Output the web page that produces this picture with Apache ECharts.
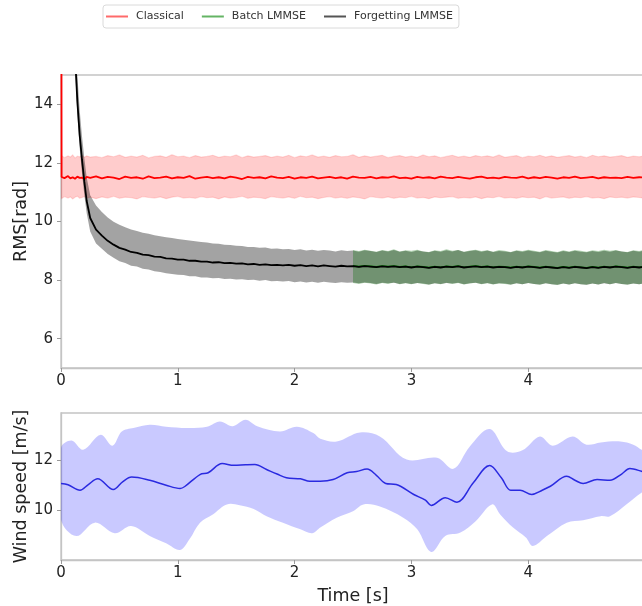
<!DOCTYPE html>
<html>
<head>
<meta charset="utf-8">
<script src="https://cdn.jsdelivr.net/npm/echarts@6/dist/echarts.min.js"></script>
<style>
  html, body { margin: 0; padding: 0; background: #fff; }
  #chart { width: 642px; height: 606px; }
</style>
</head>
<body>
<div id="chart"></div>
<script>
// ---- RMS error panel: sample times (dense near the start, then every 0.05 s) ----
const rmsTimeHead = [0, 0.005, 0.03, 0.06, 0.08, 0.10, 0.12, 0.14, 0.16, 0.18, 0.20, 0.22, 0.25, 0.30];
const rmsStep = 0.05;
const rmsTime = rmsTimeHead.concat(Array.from({ length: 94 }, (_, i) => +(0.35 + rmsStep * i).toFixed(2)));

// Classical estimator: mean and spread band
const classicalMean = [30, 11.52, 11.48, 11.55, 11.47, 11.51, 11.46, 11.53, 11.49, 11.5, 11.44, 11.52, 11.49, 11.54,
  11.47, 11.52, 11.5, 11.45, 11.53, 11.49, 11.51, 11.46, 11.54, 11.48,
  11.5, 11.53, 11.47, 11.51, 11.49, 11.55, 11.46, 11.5, 11.52, 11.48,
  11.51, 11.47, 11.53, 11.5, 11.45, 11.52, 11.49, 11.51, 11.47, 11.54,
  11.5, 11.48, 11.52, 11.46, 11.51, 11.49, 11.53, 11.47, 11.5, 11.52,
  11.48, 11.51, 11.46, 11.53, 11.5, 11.49, 11.52, 11.47, 11.51, 11.5,
  11.54, 11.48, 11.5, 11.46, 11.52, 11.49, 11.51, 11.47, 11.53, 11.5,
  11.48, 11.52, 11.49, 11.46, 11.51, 11.53, 11.48, 11.5, 11.47, 11.52,
  11.5, 11.49, 11.53, 11.47, 11.51, 11.48, 11.52, 11.5, 11.46, 11.51,
  11.49, 11.53, 11.48, 11.5, 11.52, 11.47, 11.51, 11.49, 11.5, 11.48,
  11.52, 11.49, 11.51, 11.5];
const classicalHigh = [12.22, 12.25, 12.18, 12.24, 12.2, 12.27, 12.17, 12.23, 12.21, 12.26, 12.19, 12.24, 12.2, 12.22,
  12.18, 12.25, 12.21, 12.27, 12.19, 12.23, 12.2, 12.26, 12.17, 12.22,
  12.24, 12.19, 12.28, 12.21, 12.23, 12.18, 12.25, 12.2, 12.22, 12.26,
  12.19, 12.23, 12.21, 12.27, 12.18, 12.24, 12.2, 12.22, 12.25, 12.19,
  12.23, 12.2, 12.26, 12.18, 12.24, 12.21, 12.27, 12.2, 12.23, 12.19,
  12.25, 12.21, 12.22, 12.28, 12.19, 12.24, 12.2, 12.23, 12.26, 12.18,
  12.22, 12.25, 12.2, 12.23, 12.19, 12.27, 12.21, 12.24, 12.18, 12.22,
  12.26, 12.2, 12.23, 12.19, 12.25, 12.21, 12.24, 12.2, 12.27, 12.19,
  12.22, 12.25, 12.18, 12.23, 12.21, 12.26, 12.2, 12.24, 12.19, 12.22,
  12.25, 12.2, 12.23, 12.18, 12.26, 12.21, 12.24, 12.2, 12.22, 12.25,
  12.19, 12.23, 12.21, 12.24];
const classicalLow = [10.82, 10.78, 10.85, 10.8, 10.84, 10.77, 10.83, 10.86, 10.79, 10.82, 10.85, 10.8, 10.83, 10.78,
  10.84, 10.8, 10.86, 10.79, 10.83, 10.81, 10.77, 10.85, 10.82, 10.8,
  10.84, 10.78, 10.83, 10.86, 10.8, 10.82, 10.79, 10.85, 10.81, 10.83,
  10.77, 10.84, 10.8, 10.82, 10.86, 10.79, 10.83, 10.81, 10.78, 10.85,
  10.82, 10.8, 10.84, 10.79, 10.86, 10.81, 10.83, 10.78, 10.82, 10.85,
  10.8, 10.83, 10.79, 10.84, 10.81, 10.77, 10.85, 10.82, 10.8, 10.84,
  10.79, 10.83, 10.81, 10.86, 10.8, 10.82, 10.78, 10.84, 10.81, 10.83,
  10.85, 10.79, 10.82, 10.8, 10.84, 10.78, 10.83, 10.81, 10.86, 10.8,
  10.82, 10.79, 10.84, 10.81, 10.83, 10.77, 10.85, 10.8, 10.82, 10.84,
  10.79, 10.83, 10.81, 10.85, 10.8, 10.82, 10.78, 10.84, 10.81, 10.83,
  10.8, 10.84, 10.82, 10.79];

// Forgetting LMMSE: mean and spread band
const forgettingMean = [60, 55, 36, 24.5, 20.5, 17.8, 15.7, 14.1, 12.95, 12.1, 11.35, 10.7, 10.12, 9.72,
  9.52, 9.34, 9.21, 9.1, 9.04, 8.96, 8.93, 8.87, 8.85, 8.8,
  8.79, 8.74, 8.73, 8.7, 8.7, 8.66, 8.66, 8.63, 8.63, 8.6,
  8.61, 8.58, 8.59, 8.56, 8.57, 8.54, 8.55, 8.52, 8.54, 8.51,
  8.52, 8.5, 8.52, 8.49, 8.51, 8.48, 8.5, 8.47, 8.5, 8.48,
  8.46, 8.49, 8.47, 8.48, 8.45, 8.48, 8.46, 8.44, 8.47, 8.45,
  8.47, 8.44, 8.46, 8.43, 8.46, 8.44, 8.42, 8.45, 8.43, 8.46,
  8.44, 8.47, 8.43, 8.45, 8.47, 8.44, 8.46, 8.43, 8.45, 8.44,
  8.42, 8.45, 8.43, 8.46, 8.44, 8.42, 8.45, 8.43, 8.41, 8.44,
  8.42, 8.45, 8.43, 8.41, 8.44, 8.42, 8.45, 8.43, 8.46, 8.44,
  8.42, 8.45, 8.43, 8.46];
const forgettingHigh = [64, 58, 38, 26, 21.8, 18.9, 16.7, 15.0, 13.8, 12.9, 12.15, 11.5, 10.9, 10.55,
  10.32, 10.14, 9.99, 9.89, 9.8, 9.73, 9.68, 9.62, 9.58, 9.53,
  9.5, 9.46, 9.44, 9.4, 9.38, 9.35, 9.33, 9.3, 9.28, 9.25,
  9.24, 9.21, 9.2, 9.17, 9.16, 9.13, 9.13, 9.1, 9.11, 9.07,
  9.08, 9.05, 9.06, 9.03, 9.05, 9.01, 9.04, 9.0, 9.03, 9.01,
  8.98, 9.02, 8.99, 9.01,
  8.97, 9.02, 8.99, 8.96, 9.01, 8.98, 9.03, 8.97, 9.0,
  8.96, 9.01, 8.98, 8.95, 9.0, 8.97, 9.02, 8.98, 9.03, 8.96,
  8.99, 9.02, 8.97, 9.01, 8.96, 8.99, 8.98, 8.95, 9.0, 8.97,
  9.01, 8.98, 8.95, 9.0, 8.97, 8.94, 8.99, 8.96, 9.0, 8.97,
  8.95, 8.99, 8.96, 9.0, 8.97, 9.01, 8.98, 8.95, 9.0, 8.97, 9.01];
const forgettingLow = [59, 53.5, 34.8, 23.8, 19.9, 17.3, 15.25, 13.65, 12.5, 11.65, 10.9, 10.28, 9.66, 9.25,
  9.07, 8.89, 8.76, 8.64, 8.58, 8.49, 8.46, 8.39, 8.36, 8.3,
  8.28, 8.23, 8.21, 8.18, 8.17, 8.13, 8.13, 8.09, 8.09, 8.06,
  8.07, 8.04, 8.05, 8.02, 8.03, 8.0, 8.01, 7.98, 8.0, 7.96,
  7.97, 7.95, 7.97, 7.93, 7.95, 7.92, 7.94, 7.91, 7.94, 7.92,
  7.9, 7.93, 7.91, 7.92,
  7.89, 7.92, 7.9, 7.87, 7.91, 7.89, 7.91, 7.87, 7.9,
  7.87, 7.9, 7.88, 7.85, 7.89, 7.87, 7.9, 7.88, 7.91, 7.86,
  7.89, 7.91, 7.87, 7.9, 7.86, 7.89, 7.88, 7.85, 7.89, 7.86,
  7.9, 7.87, 7.85, 7.89, 7.86, 7.84, 7.88, 7.85, 7.89, 7.86,
  7.84, 7.88, 7.85, 7.89, 7.86, 7.9, 7.87, 7.85, 7.88, 7.86, 7.9];

// Batch LMMSE: runs from 2.5 s, every 0.05 s
const batchStart = 2.5;
const batchTime = Array.from({ length: 51 }, (_, i) => +(batchStart + rmsStep * i).toFixed(2));
const batchMean = [8.49, 8.46, 8.49, 8.47, 8.45, 8.48, 8.46, 8.48, 8.45, 8.47,
  8.44, 8.47, 8.45, 8.43, 8.46, 8.44, 8.47, 8.45, 8.48, 8.44,
  8.46, 8.48, 8.45, 8.47, 8.44, 8.46, 8.45, 8.43, 8.46, 8.44,
  8.47, 8.45, 8.43, 8.46, 8.44, 8.42, 8.45, 8.43, 8.46, 8.44,
  8.42, 8.45, 8.43, 8.46, 8.44, 8.47, 8.45, 8.43, 8.46, 8.44, 8.47];
const batchHigh = [9.03, 8.99, 9.04, 9.0, 8.97, 9.03, 8.99, 9.05, 8.98, 9.02,
  9.0, 9.04, 8.98, 8.96, 9.02, 8.99, 9.05, 9.0, 9.03, 8.97,
  9.01, 9.04, 8.99, 9.02, 8.97, 9.03, 9.0, 8.96, 9.02, 8.99,
  9.04, 9.0, 8.97, 9.03, 8.99, 8.96, 9.02, 8.98, 9.03, 9.0,
  8.97, 9.02, 8.99, 9.04, 9.0, 9.03, 8.98, 8.96, 9.02, 8.99, 9.05];
const batchLow = [7.9, 7.87, 7.91, 7.88, 7.85, 7.9, 7.87, 7.92, 7.86, 7.89,
  7.86, 7.9, 7.87, 7.84, 7.89, 7.86, 7.91, 7.87, 7.9, 7.85,
  7.88, 7.91, 7.86, 7.89, 7.85, 7.88, 7.87, 7.84, 7.89, 7.86,
  7.9, 7.87, 7.84, 7.89, 7.86, 7.83, 7.88, 7.85, 7.89, 7.86,
  7.84, 7.88, 7.85, 7.9, 7.86, 7.9, 7.87, 7.84, 7.88, 7.86, 7.9];

// ---- Wind speed panel ----
const windTime = [0, 0.06, 0.163, 0.234, 0.314, 0.448, 0.53, 0.605, 0.76, 0.9, 1.02, 1.06, 1.19, 1.26, 1.38, 1.48,
  1.58, 1.66, 1.76, 1.85, 1.93, 2.05, 2.13, 2.22, 2.33, 2.45, 2.53, 2.62, 2.7, 2.78, 2.87, 3.02, 3.12, 3.17,
  3.29, 3.39, 3.53, 3.67, 3.77, 3.85, 3.93, 4.03, 4.12, 4.19, 4.33, 4.4, 4.47, 4.59, 4.7, 4.8, 4.87, 4.97, 5.0];
const windMean = [11.07, 11.02, 10.8, 11.03, 11.26, 10.83, 11.15, 11.33, 11.2, 11.0, 10.87, 10.95, 11.43, 11.5, 11.87, 11.8,
  11.82, 11.83, 11.63, 11.45, 11.3, 11.26, 11.16, 11.16, 11.23, 11.5, 11.55, 11.65, 11.4, 11.07, 11.03, 10.63, 10.4, 10.19,
  10.5, 10.32, 11.1, 11.79, 11.3, 10.8, 10.8, 10.63, 10.8, 10.96, 11.36, 11.2, 11.07, 11.23, 11.2, 11.45, 11.67, 11.56, 11.5];
const windHighTime = [0, 0.09, 0.19, 0.34, 0.44, 0.52, 0.62, 0.76, 0.9, 1.08, 1.25, 1.36, 1.47, 1.58, 1.68, 1.875, 2.02,
  2.16, 2.22, 2.36, 2.56, 2.73, 2.96, 3.22, 3.36, 3.5, 3.67, 3.82, 3.95, 4.1, 4.21, 4.38, 4.5, 4.62, 4.79, 4.9, 4.97, 5.0];
const windHigh = [12.5, 12.8, 12.43, 13.03, 12.59, 13.16, 13.3, 13.43, 13.35, 13.3, 13.35, 13.56, 13.37, 13.63, 13.37, 13.16, 13.35,
  13.1, 12.87, 12.76, 13.12, 12.96, 12.03, 12.1, 11.66, 12.56, 13.26, 12.36, 12.4, 12.96, 12.59, 12.96, 12.63, 12.72, 12.76, 12.63, 12.43, 12.35];
const windLowTime = [0, 0.13, 0.29, 0.46, 0.6, 0.76, 0.9, 1.02, 1.1, 1.19, 1.3, 1.42, 1.53, 1.65, 1.76, 1.9, 2.05, 2.15,
  2.22, 2.36, 2.5, 2.59, 2.73, 2.93, 3.05, 3.17, 3.29, 3.42, 3.55, 3.69, 3.76, 3.87, 3.98, 4.04, 4.16, 4.33, 4.47,
  4.62, 4.7, 4.84, 4.97, 5.0];
const windLow = [9.63, 8.96, 9.5, 9.07, 9.36, 8.96, 8.67, 8.4, 8.83, 9.5, 9.83, 10.23, 10.2, 10.05, 9.76, 9.5, 9.23, 9.07,
  9.3, 9.7, 9.96, 10.23, 10.15, 9.7, 9.23, 8.32, 8.96, 9.1, 9.56, 10.23, 9.83, 9.3, 8.9, 8.56, 8.96, 9.5, 9.6,
  9.76, 9.76, 10.23, 10.7, 10.75];

// ---- helpers ----
const zip = (xs, ys) => xs.map((x, i) => [x, ys[i]]);

// Filled region between an upper and a lower curve, drawn through the axis scales
function bandSeries(upperT, upper, lowerT, lower, panel, fill, stroke, smooth) {
  return {
    type: 'custom',
    xAxisIndex: panel,
    yAxisIndex: panel,
    silent: true,
    clip: true,
    animation: false,
    data: [[upperT[0], upper[0]]],
    encode: { x: 0, y: 1 },
    renderItem(params, api) {
      const top = upperT.map((t, i) => api.coord([t, upper[i]]));
      const bottom = lowerT.map((t, i) => api.coord([t, lower[i]])).reverse();
      return {
        type: 'polygon',
        shape: { points: top.concat(bottom), smooth: smooth || 0 },
        style: { fill: fill, stroke: stroke || 'none', lineWidth: stroke ? 1.2 : 0 }
      };
    }
  };
}

function lineSeries(name, xs, ys, panel, color, width, smooth) {
  return {
    name: name,
    type: 'line',
    xAxisIndex: panel,
    yAxisIndex: panel,
    data: zip(xs, ys),
    showSymbol: false,
    symbol: 'none',
    smooth: smooth || false,
    clip: true,
    animation: false,
    lineStyle: { color: color, width: width },
    itemStyle: { color: color }
  };
}

const FONT = 'DejaVu Sans';
const frameColor = '#c4c4c4';
const tickText = { color: '#222', fontSize: 15, fontFamily: FONT };
const nameText = { color: '#222', fontSize: 17.5, fontFamily: FONT };

function xAxisCfg(panel, name) {
  return {
    type: 'value', gridIndex: panel, min: 0, max: 5, interval: 1,
    name: name || '', nameLocation: 'middle', nameGap: 27, nameMoveOverlap: false, nameTextStyle: nameText,
    axisLine: { show: true, lineStyle: { color: frameColor, width: 1.3 } },
    axisTick: { show: true, inside: false, length: 4, lineStyle: { color: '#9a9a9a', width: 1 } },
    axisLabel: Object.assign({ margin: 6, showMaxLabel: false }, tickText),
    splitLine: { show: false }
  };
}

function yAxisCfg(panel, name, extra) {
  return Object.assign({
    type: 'value', gridIndex: panel,
    name: name, nameLocation: 'middle', nameGap: 31, nameMoveOverlap: false, nameTextStyle: nameText,
    axisLine: { show: true, lineStyle: { color: frameColor, width: 1.3 } },
    axisTick: { show: true, inside: false, length: 4, lineStyle: { color: '#9a9a9a', width: 1 } },
    axisLabel: Object.assign({ margin: 8, showMinLabel: false, showMaxLabel: false }, tickText),
    splitLine: { show: false }
  }, extra);
}

const gridBase = {
  left: 61, width: 584, show: true, borderColor: frameColor, borderWidth: 1.3,
  backgroundColor: 'transparent', outerBoundsMode: 'none', containLabel: false
};

const chart = echarts.init(document.getElementById('chart'), null, { renderer: 'canvas' });

chart.setOption({
  backgroundColor: '#fff',
  animation: false,
  legend: {
    left: 103, top: 5,
    orient: 'horizontal',
    icon: 'rect', itemWidth: 22, itemHeight: 2, itemGap: 18,
    padding: [6, 6, 6, 3],
    borderColor: '#dadada', borderWidth: 1, borderRadius: 3,
    backgroundColor: '#fff',
    textStyle: { fontSize: 11, fontFamily: FONT, color: '#333', padding: [0, 0, 0, 3] },
    data: [
      { name: 'Classical', itemStyle: { color: '#ff6a6a' } },
      { name: 'Batch LMMSE', itemStyle: { color: '#64b464' } },
      { name: 'Forgetting LMMSE', itemStyle: { color: '#555' } }
    ]
  },
  grid: [
    Object.assign({ top: 75, height: 293 }, gridBase),
    Object.assign({ top: 413, height: 147 }, gridBase)
  ],
  xAxis: [xAxisCfg(0), xAxisCfg(1, 'Time [s]')],
  yAxis: [
    yAxisCfg(0, 'RMS[rad]', { min: 5, max: 15, splitNumber: 5 }),
    yAxisCfg(1, 'Wind speed [m/s]', { min: 8, max: 13.9, interval: 2 })
  ],
  series: [
    bandSeries(rmsTime, classicalHigh, rmsTime, classicalLow, 0, 'rgba(255,0,0,0.2)', 'rgba(255,0,0,0.12)'),
    bandSeries(rmsTime, forgettingHigh, rmsTime, forgettingLow, 0, 'rgba(0,0,0,0.36)'),
    bandSeries(batchTime, batchHigh, batchTime, batchLow, 0, 'rgba(0,110,0,0.3)'),
    lineSeries('Classical', rmsTime, classicalMean, 0, '#ff0000', 1.8),
    lineSeries('Batch LMMSE', batchTime, batchMean, 0, '#008000', 1.6),
    lineSeries('Forgetting LMMSE', rmsTime, forgettingMean, 0, '#000000', 1.8),
    bandSeries(windHighTime, windHigh, windLowTime, windLow, 1, 'rgba(0,0,255,0.21)', null, 0.35),
    lineSeries('wind', windTime, windMean, 1, '#2a2ae0', 1.5, 0.35)
  ]
});
</script>
</body>
</html>
